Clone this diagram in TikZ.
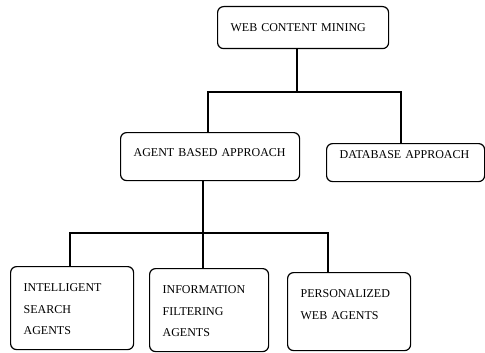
\documentclass[tikz,border=0pt]{standalone}
\usepackage{fontspec}
\setmainfont{Liberation Serif}
\begin{document}
\begin{tikzpicture}[x=1pt,y=1pt,
  box/.style={draw, rounded corners=6pt, line width=1.2pt, anchor=north west,
    inner xsep=13pt, inner ysep=0pt, align=left,
    font=\fontsize{12}{21.5}\selectfont},
  conn/.style={line width=1.1pt}]
\useasboundingbox (0,0) rectangle (485,-353);
\node[box, text width=145pt, text height=25pt, text depth=17pt] (top) at (217,-6) {WEB CONTENT MINING};
\node[box, text width=153pt, text height=24pt, text depth=24pt] (agent) at (120,-132) {AGENT BASED APPROACH};
\node[box, text width=132pt, text height=15pt, text depth=23pt] (db) at (326,-143) {DATABASE APPROACH};
\node[box, text width=97pt, text height=25pt, text depth=58pt] (a1) at (10,-266) {INTELLIGENT\\SEARCH\\AGENTS};
\node[box, text width=93pt, text height=25pt, text depth=58pt] (a2) at (149,-268) {INFORMATION\\FILTERING\\AGENTS};
\node[box, text width=97pt, text height=25pt, text depth=53pt] (a3) at (287,-272) {PERSONALIZED\\WEB AGENTS};
\coordinate (j1) at (297,-92);
\coordinate (l1) at (208,-92);
\coordinate (r1) at (401,-92);
\coordinate (j2) at (203,-233);
\coordinate (l2) at (70,-233);
\coordinate (r2) at (328,-233);
\draw[conn] (top.south -| j1) -- (j1);
\draw[conn] (agent.north -| l1) -- (l1) -- (r1) -- (r1 |- db.north);
\draw[conn] (agent.south -| j2) -- (a2.north -| j2);
\draw[conn] (a1.north -| l2) -- (l2) -- (r2) -- (r2 |- a3.north);
\end{tikzpicture}
\end{document}
